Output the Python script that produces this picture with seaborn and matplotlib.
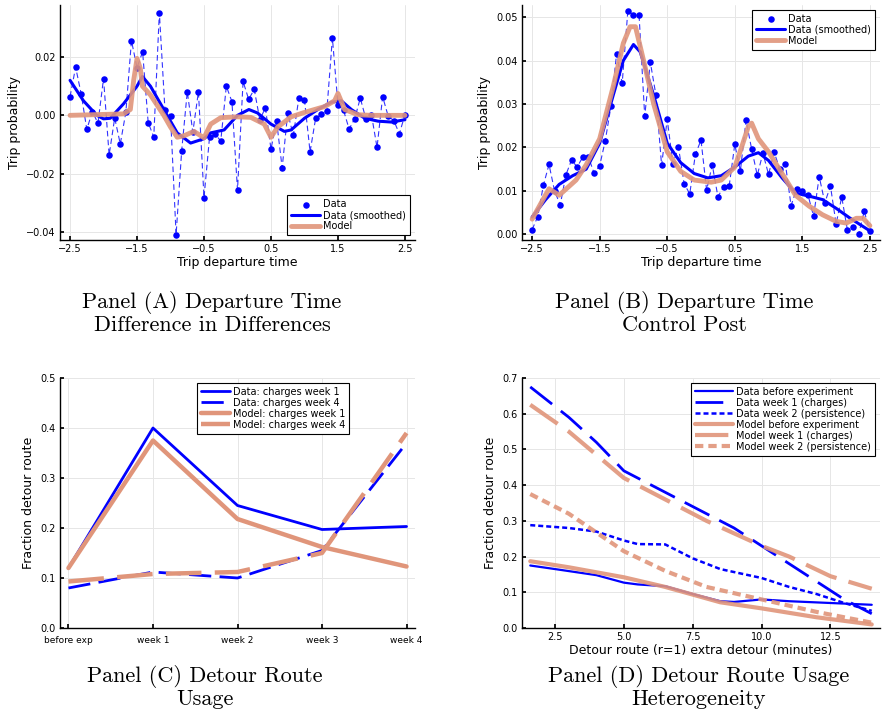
import numpy as np
import pandas as pd
import seaborn as sns
import matplotlib
matplotlib.use("Agg")
import matplotlib.pyplot as plt

# ---------- Panel A data ----------
a_x = list(np.round(np.linspace(-2.5, 2.5, 61), 4))
a_data = [0.0064, 0.0165, 0.0073, -0.0048, 0.0013, -0.0027, 0.0126, -0.0136, -0.0009, -0.0098,
          0.0011, 0.0256, 0.0163, 0.0218, -0.0025, -0.0074, 0.0352, 0.0020, -0.0001, -0.0409,
          -0.0121, 0.0081, -0.0057, 0.0081, -0.0282, -0.0073, -0.0064, -0.0088, 0.0100, 0.0047,
          -0.0255, 0.0116, 0.0055, 0.0089, -0.0015, 0.0026, -0.0116, -0.0019, -0.0180, 0.0008,
          -0.0069, 0.0060, 0.0053, -0.0125, -0.0010, 0.0003, 0.0015, 0.0265, 0.0037, 0.0017,
          -0.0047, -0.0011, 0.0059, -0.0012, 0.0002, -0.0110, 0.0064, -0.0003, -0.0018, -0.0063, 0.0002]
a_smooth_x = [-2.5, -2.3, -2.1, -2.0, -1.9, -1.7, -1.5, -1.42, -1.3, -1.1, -0.9, -0.7, -0.5, -0.4, -0.2,
              0.0, 0.17, 0.3, 0.5, 0.7, 0.8, 1.0, 1.2, 1.4, 1.55, 1.7, 1.9, 2.1, 2.3, 2.5]
a_smooth_y = [0.012, 0.005, 0.000, -0.0012, -0.001, 0.004, 0.010, 0.0133, 0.010, 0.002, -0.006, -0.0095,
              -0.008, -0.006, -0.005, 0.000, 0.0020, 0.0008, -0.003, -0.0055, -0.005, -0.001, 0.002,
              0.0045, 0.005, 0.002, -0.001, -0.002, -0.0023, -0.0015]
a_model_x = [-2.5, -1.7, -1.6, -1.55, -1.5, -1.45, -1.42, -1.3, -1.1, -1.0, -0.9, -0.8, -0.65, -0.5, -0.4,
             -0.25, 0.0, 0.2, 0.4, 0.5, 0.6, 0.8, 1.0, 1.3, 1.45, 1.5, 1.6, 1.8, 2.0, 2.5]
a_model_y = [0.0, 0.0005, 0.002, 0.012, 0.0195, 0.016, 0.010, 0.007, 0.000, -0.004, -0.0075, -0.007,
             -0.0055, -0.0077, -0.003, -0.0008, -0.0005, -0.0007, -0.003, -0.0075, -0.004, -0.0005,
             0.001, 0.003, 0.005, 0.0075, 0.002, 0.0002, 0.0, 0.0]

# ---------- Panel B data ----------
b_x = a_x
b_data = [0.0011, 0.0041, 0.0113, 0.0161, 0.0099, 0.0068, 0.0137, 0.0171, 0.0155, 0.0178,
          0.0178, 0.0141, 0.0158, 0.0216, 0.0295, 0.0415, 0.0348, 0.0514, 0.0506, 0.0504,
          0.0272, 0.0396, 0.0320, 0.0159, 0.0265, 0.0163, 0.0200, 0.0117, 0.0093, 0.0184,
          0.0217, 0.0102, 0.0160, 0.0087, 0.0108, 0.0111, 0.0207, 0.0146, 0.0263, 0.0196,
          0.0136, 0.0187, 0.0138, 0.0189, 0.0150, 0.0162, 0.0066, 0.0105, 0.0100, 0.0091,
          0.0042, 0.0133, 0.0073, 0.0111, 0.0024, 0.0086, 0.0011, 0.0016, 0.0000, 0.0053, 0.0007]
b_smooth_x = [-2.5, -2.3, -2.1, -1.9, -1.7, -1.5, -1.3, -1.15, -1.0, -0.9, -0.7, -0.5, -0.3, -0.1, 0.1,
              0.3, 0.5, 0.7, 0.85, 1.0, 1.2, 1.4, 1.6, 1.8, 2.0, 2.2, 2.5]
b_smooth_y = [0.004, 0.008, 0.0115, 0.0135, 0.015, 0.021, 0.032, 0.040, 0.0437, 0.042, 0.032, 0.021,
              0.0165, 0.014, 0.013, 0.0135, 0.0155, 0.018, 0.0188, 0.017, 0.013, 0.0095, 0.0088,
              0.0080, 0.006, 0.0038, 0.0008]
b_model_x = [-2.5, -2.25, -2.1, -1.85, -1.7, -1.5, -1.3, -1.15, -1.05, -0.97, -0.85, -0.7, -0.5, -0.3,
             -0.1, 0.15, 0.3, 0.5, 0.6, 0.7, 0.75, 0.85, 1.0, 1.2, 1.4, 1.6, 1.8, 2.0, 2.15, 2.3, 2.4, 2.5]
b_model_y = [0.0035, 0.0105, 0.009, 0.0125, 0.016, 0.022, 0.034, 0.044, 0.0478, 0.0478, 0.040, 0.030,
             0.019, 0.0145, 0.0125, 0.012, 0.0125, 0.0155, 0.020, 0.0248, 0.0256, 0.022, 0.019, 0.014,
             0.009, 0.0065, 0.0045, 0.003, 0.0026, 0.0037, 0.0037, 0.002]

# ---------- Panel C data ----------
c_labels = ["before exp", "week 1", "week 2", "week 3", "week 4"]
c_data_w1 = [0.12, 0.40, 0.245, 0.197, 0.203]
c_data_w4 = [0.080, 0.112, 0.100, 0.155, 0.370]
c_model_w1 = [0.12, 0.375, 0.218, 0.162, 0.123]
c_model_w4 = [0.093, 0.108, 0.112, 0.150, 0.390]

# ---------- Panel D data ----------
d_before_x = [1.6, 2.5, 4, 5, 5.5, 6.5, 7.5, 8.5, 9, 10, 11, 12.5, 14]
d_before_y = [0.175, 0.165, 0.148, 0.127, 0.122, 0.117, 0.095, 0.075, 0.073, 0.080, 0.075, 0.070, 0.065]
d_w1_x = [1.6, 3, 4, 5, 6, 7, 8, 9, 10, 11, 12, 13, 14]
d_w1_y = [0.675, 0.59, 0.52, 0.44, 0.40, 0.36, 0.32, 0.28, 0.23, 0.18, 0.13, 0.08, 0.04]
d_w2_x = [1.6, 3, 4, 5, 5.5, 6.5, 7.5, 8.5, 10, 11, 12, 13, 14]
d_w2_y = [0.288, 0.28, 0.27, 0.245, 0.235, 0.234, 0.195, 0.165, 0.14, 0.115, 0.095, 0.07, 0.048]
dm_before_x = [1.6, 3, 5, 6.5, 8.5, 10, 12, 14]
dm_before_y = [0.187, 0.170, 0.142, 0.115, 0.072, 0.055, 0.030, 0.010]
dm_w1_x = [1.6, 3, 5, 6.5, 8, 10, 11, 12.5, 14]
dm_w1_y = [0.625, 0.55, 0.42, 0.36, 0.30, 0.23, 0.20, 0.145, 0.11]
dm_w2_x = [1.6, 3, 5, 6.5, 8, 10, 12, 14]
dm_w2_y = [0.375, 0.32, 0.215, 0.16, 0.115, 0.08, 0.045, 0.015]

BLUE = "#0000ff"
SAL = "#e0957a"

sns.set_theme(style="whitegrid")
plt.rcParams["font.family"] = ["DejaVu Sans"]
plt.rcParams["mathtext.fontset"] = "cm"
plt.rcParams["text.color"] = "black"
plt.rcParams["axes.labelcolor"] = "black"
plt.rcParams["xtick.color"] = "black"
plt.rcParams["ytick.color"] = "black"

fig = plt.figure(figsize=(8.86, 7.2), dpi=100)
W, H = 886, 720
def ax_at(l, t, r, b):
    return fig.add_axes([l / W, 1 - b / H, (r - l) / W, (b - t) / H])

axA = ax_at(60, 5, 415, 240)
axB = ax_at(522, 5, 880, 240)
axC = ax_at(60, 378, 415, 628)
axD = ax_at(522, 378, 880, 628)

def style(ax):
    for s in ["top", "right"]:
        ax.spines[s].set_visible(False)
    for s in ["left", "bottom"]:
        ax.spines[s].set_color("black")
        ax.spines[s].set_linewidth(1.0)
    ax.grid(True, color="#e6e6e6", linewidth=0.7)
    ax.set_facecolor("white")
    ax.tick_params(labelsize=7, length=3, direction="in", color="black", pad=3, left=True, bottom=True)

def legend(ax, loc, fs=7, hl=3.0):
    lg = ax.legend(loc=loc, fontsize=fs, frameon=True, fancybox=False, framealpha=1,
                   handlelength=hl, borderpad=0.4, labelspacing=0.1, handletextpad=0.3)
    lg.get_frame().set_edgecolor("black")
    lg.get_frame().set_linewidth(0.8)

def panel_time(ax, x, data, sx, sy, mx, my, loc, ylim, yticks):
    sns.lineplot(x=x, y=data, ax=ax, color=BLUE, linestyle=(0, (5, 3)), linewidth=0.8, alpha=0.8)
    sns.scatterplot(x=x, y=data, ax=ax, color=BLUE, s=22, edgecolor=BLUE, linewidth=0, label="Data", zorder=3)
    sns.lineplot(x=sx, y=sy, ax=ax, color=BLUE, linewidth=2.2, label="Data (smoothed)", sort=False, zorder=4)
    sns.lineplot(x=mx, y=my, ax=ax, color=SAL, linewidth=3.5, alpha=0.9, label="Model", sort=False, zorder=4)
    ax.set_xticks([-2.5, -1.5, -0.5, 0.5, 1.5, 2.5])
    ax.set_xticklabels(["\u22122.5", "\u22121.5", "\u22120.5", "0.5", "1.5", "2.5"])
    ax.set_xlim(-2.65, 2.65)
    ax.set_ylim(*ylim)
    ax.set_yticks(yticks)
    ax.set_xlabel("Trip departure time", fontsize=9, labelpad=1)
    ax.set_ylabel("Trip probability", fontsize=9)
    style(ax)
    legend(ax, loc)

panel_time(axA, a_x, a_data, a_smooth_x, a_smooth_y, a_model_x, a_model_y, "lower right",
           (-0.0427, 0.0378), [-0.04, -0.02, 0.0, 0.02])
axA.set_yticklabels(["\u22120.04", "\u22120.02", "0.00", "0.02"])
panel_time(axB, b_x, b_data, b_smooth_x, b_smooth_y, b_model_x, b_model_y, "upper right",
           (-0.0013, 0.0528), [0.0, 0.01, 0.02, 0.03, 0.04, 0.05])
axB.set_yticklabels(["0.00", "0.01", "0.02", "0.03", "0.04", "0.05"])

# Panel C
cx = list(range(len(c_labels)))
dash = (0, (8, 3))
sns.lineplot(x=cx, y=c_data_w1, ax=axC, color=BLUE, linewidth=2, label="Data: charges week 1")
sns.lineplot(x=cx, y=c_data_w4, ax=axC, color=BLUE, linewidth=2, linestyle=dash, label="Data: charges week 4")
sns.lineplot(x=cx, y=c_model_w1, ax=axC, color=SAL, linewidth=3.2, label="Model: charges week 1")
sns.lineplot(x=cx, y=c_model_w4, ax=axC, color=SAL, linewidth=3.2, linestyle=dash, label="Model: charges week 4")
axC.set_xticks(cx)
axC.set_xticklabels(c_labels)
axC.set_xlim(-0.1, 4.1)
axC.set_ylim(0, 0.5)
axC.set_yticks([0, 0.1, 0.2, 0.3, 0.4, 0.5])
axC.set_yticklabels(["0.0", "0.1", "0.2", "0.3", "0.4", "0.5"])
axC.set_ylabel("Fraction detour route", fontsize=9)
style(axC)
axC.tick_params(axis="x", labelsize=6.5, pad=6)
legend(axC, "upper center", fs=7)
axC.get_legend().set_bbox_to_anchor((0.6, 1.0))

# Panel D
sns.lineplot(x=d_before_x, y=d_before_y, ax=axD, color=BLUE, linewidth=1.6, label="Data before experiment")
sns.lineplot(x=d_w1_x, y=d_w1_y, ax=axD, color=BLUE, linewidth=2, linestyle=(0, (10, 4)), label="Data week 1 (charges)")
sns.lineplot(x=d_w2_x, y=d_w2_y, ax=axD, color=BLUE, linewidth=1.8, linestyle=(0, (2, 1.2)), label="Data week 2 (persistence)")
sns.lineplot(x=dm_before_x, y=dm_before_y, ax=axD, color=SAL, linewidth=3, alpha=0.9, label="Model before experiment")
sns.lineplot(x=dm_w1_x, y=dm_w1_y, ax=axD, color=SAL, linewidth=3, alpha=0.9, linestyle=(0, (8, 3)), label="Model week 1 (charges)")
sns.lineplot(x=dm_w2_x, y=dm_w2_y, ax=axD, color=SAL, linewidth=3, alpha=0.9, linestyle=(0, (2, 1.2)), label="Model week 2 (persistence)")
axD.set_xlim(1.3, 14.3)
axD.set_xticks([2.5, 5.0, 7.5, 10.0, 12.5])
axD.set_ylim(0, 0.7)
axD.set_yticks([0, 0.1, 0.2, 0.3, 0.4, 0.5, 0.6, 0.7])
axD.set_yticklabels(["0.0", "0.1", "0.2", "0.3", "0.4", "0.5", "0.6", "0.7"])
axD.set_xlabel("Detour route (r=1) extra detour (minutes)", fontsize=9, labelpad=1)
axD.set_ylabel("Fraction detour route", fontsize=9)
style(axD)
legend(axD, "upper right", fs=7, hl=4.0)

# Panel titles
tfont = dict(fontsize=16, family="cmr10", ha="center", va="center", linespacing=1.15, color="black")
fig.text(212 / W, 1 - 313 / H, "Panel (A) Departure Time\nDifference in Differences", **tfont)
fig.text(684 / W, 1 - 313 / H, "Panel (B) Departure Time\nControl Post", **tfont)
fig.text(205 / W, 1 - 687 / H, "Panel (C) Detour Route\nUsage", **tfont)
fig.text(699 / W, 1 - 687 / H, "Panel (D) Detour Route Usage\nHeterogeneity", **tfont)

fig.savefig("out.png", dpi=100, facecolor="white")
